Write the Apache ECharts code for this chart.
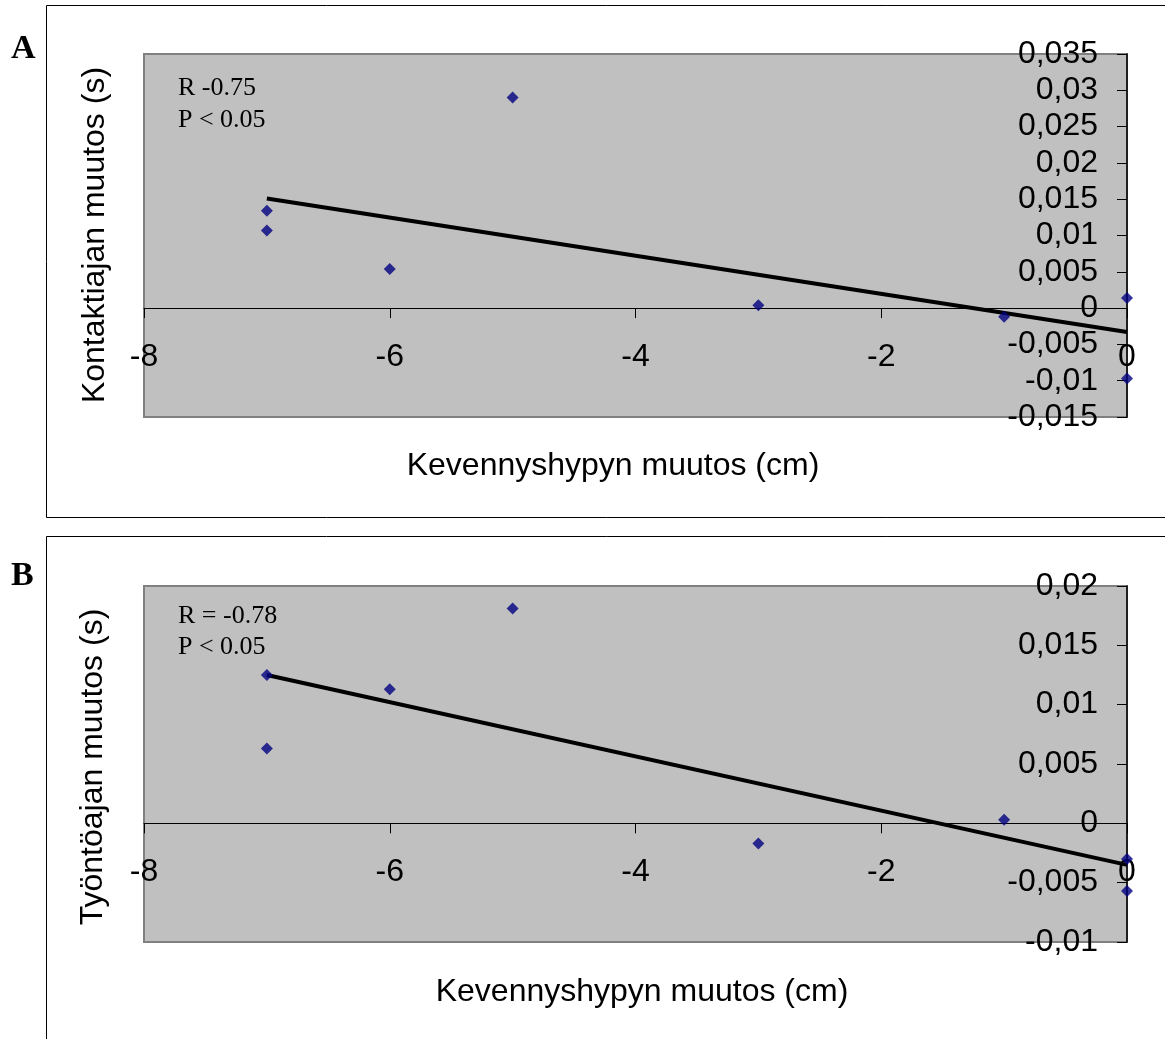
<!DOCTYPE html>
<html>
<head>
<meta charset="utf-8">
<script src="https://cdn.jsdelivr.net/npm/echarts@6/dist/echarts.min.js"></script>
<style>
  html, body { margin: 0; padding: 0; background: #fff; }
  #chart { width: 1165px; height: 1039px; }
</style>
</head>
<body>
<div id="chart"></div>
<script>
// panel A: kontaktiaika
const xA = [-7, -7, -6, -5, -3, -1, 0, 0];
const yA = [0.0134, 0.0107, 0.0054, 0.029, 0.0004, -0.0012, 0.0014, -0.0097];
const trendXA = [-7, 0];
const trendYA = [0.0151, -0.0033];

// panel B: työntöaika
const xB = [-7, -7, -6, -5, -3, -1, 0, 0];
const yB = [0.0125, 0.0063, 0.0113, 0.0181, -0.0017, 0.0003, -0.003, -0.0057];
const trendXB = [-7, 0];
const trendYB = [0.0125, -0.0035];

const xRange = [-8, 0, 2];
const yRangeA = [-0.015, 0.035, 0.005];
const yRangeB = [-0.01, 0.02, 0.005];

const xName = 'Kevennyshypyn muutos (cm)';
const yNameA = 'Kontaktiajan muutos (s)';
const yNameB = 'Työntöajan muutos (s)';
const noteA = ['R -0.75', 'P < 0.05'];
const noteB = ['R = -0.78', 'P < 0.05'];

const sans = 'Liberation Sans';
const serif = 'Liberation Serif';

const gridA = { left: 144, top: 54, width: 983, height: 363 };
const gridB = { left: 144, top: 586, width: 983, height: 356 };

function zip(xs, ys) {
    return xs.map(function (x, i) { return [x, ys[i]]; });
}

function fmt(v) {
    return String(parseFloat(v.toFixed(4))).replace('.', ',');
}

// x axis crosses y at 0: move it up from the grid bottom
function xAxisOf(gi, g, r) {
    return {
        type: 'value',
        gridIndex: gi,
        min: xRange[0],
        max: xRange[1],
        interval: xRange[2],
        offset: -g.height * (0 - r[0]) / (r[1] - r[0]),
        axisLine: { onZero: false, lineStyle: { color: '#000', width: 1 } },
        axisTick: { show: true, length: 10, lineStyle: { color: '#000' } },
        axisLabel: { color: '#000', fontFamily: sans, fontSize: 32, margin: 33 },
        splitLine: { show: false }
    };
}

function yAxisOf(gi, r) {
    return {
        type: 'value',
        gridIndex: gi,
        position: 'right',
        min: r[0],
        max: r[1],
        interval: r[2],
        axisLine: { show: true, onZero: false, lineStyle: { color: '#000', width: 1.5 } },
        axisTick: { show: true, inside: true, length: 10, lineStyle: { color: '#000' } },
        axisLabel: {
            inside: true,
            margin: 29,
            color: '#000',
            fontFamily: sans,
            fontSize: 32,
            formatter: fmt
        },
        splitLine: { show: false }
    };
}

function label(text, x, y, font, opts) {
    return Object.assign({
        type: 'text',
        x: x,
        y: y,
        style: {
            text: text,
            fill: '#000',
            font: font,
            align: 'left',
            verticalAlign: 'middle'
        },
        z: 10
    }, opts || {});
}

let myChart = echarts.init(document.getElementById('chart'));

const plotStyle = { show: true, backgroundColor: '#C0C0C0', borderColor: '#808080', borderWidth: 2 };

let option = {
    animation: false,
    backgroundColor: '#fff',
    grid: [
        Object.assign({}, gridA, plotStyle),
        Object.assign({}, gridB, plotStyle)
    ],
    xAxis: [xAxisOf(0, gridA, yRangeA), xAxisOf(1, gridB, yRangeB)],
    yAxis: [yAxisOf(0, yRangeA), yAxisOf(1, yRangeB)],
    series: [
        {
            type: 'line',
            xAxisIndex: 0,
            yAxisIndex: 0,
            data: zip(trendXA, trendYA),
            showSymbol: false,
            lineStyle: { color: '#000', width: 4 },
            z: 3
        },
        {
            type: 'scatter',
            xAxisIndex: 0,
            yAxisIndex: 0,
            data: zip(xA, yA),
            symbol: 'diamond',
            symbolSize: 12,
            itemStyle: { color: '#000080' },
            z: 4
        },
        {
            type: 'line',
            xAxisIndex: 1,
            yAxisIndex: 1,
            data: zip(trendXB, trendYB),
            showSymbol: false,
            lineStyle: { color: '#000', width: 4 },
            z: 3
        },
        {
            type: 'scatter',
            xAxisIndex: 1,
            yAxisIndex: 1,
            data: zip(xB, yB),
            symbol: 'diamond',
            symbolSize: 12,
            itemStyle: { color: '#000080' },
            z: 4
        }
    ],
    graphic: [
        // panel frames
        { type: 'rect', shape: { x: 46.5, y: 5.5, width: 1200, height: 512 }, style: { fill: null, stroke: '#000', lineWidth: 1 }, z: -1 },
        { type: 'rect', shape: { x: 46.5, y: 536.5, width: 1200, height: 600 }, style: { fill: null, stroke: '#000', lineWidth: 1 }, z: -1 },
        // panel letters
        label('A', 11, 49, 'bold 34px "Liberation Serif"'),
        label('B', 11, 576, 'bold 34px "Liberation Serif"'),
        // notes
        label(noteA[0], 178, 88, '26px "Liberation Serif"'),
        label(noteA[1], 178, 120, '26px "Liberation Serif"'),
        label(noteB[0], 178, 616, '26px "Liberation Serif"'),
        label(noteB[1], 178, 647, '26px "Liberation Serif"'),
        // axis names
        label(xName, 613, 466, '32px "Liberation Sans"', {
            style: { text: xName, fill: '#000', font: '32px "Liberation Sans"', align: 'center', verticalAlign: 'middle' }
        }),
        label(xName, 642, 992, '32px "Liberation Sans"', {
            style: { text: xName, fill: '#000', font: '32px "Liberation Sans"', align: 'center', verticalAlign: 'middle' }
        }),
        label(yNameA, 95, 235, '32px "Liberation Sans"', {
            rotation: Math.PI / 2,
            style: { text: yNameA, fill: '#000', font: '32px "Liberation Sans"', align: 'center', verticalAlign: 'middle' }
        }),
        label(yNameB, 93, 767, '32px "Liberation Sans"', {
            rotation: Math.PI / 2,
            style: { text: yNameB, fill: '#000', font: '32px "Liberation Sans"', align: 'center', verticalAlign: 'middle' }
        })
    ]
};

myChart.setOption(option);
</script>
</body>
</html>
